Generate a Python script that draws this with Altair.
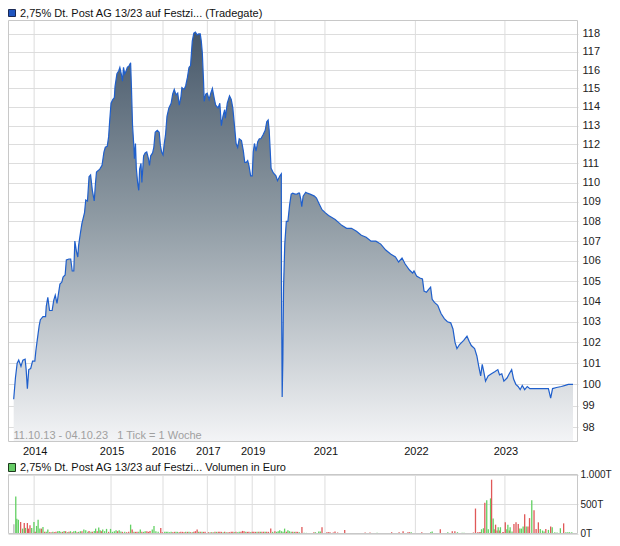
import altair as alt
import pandas as pd

# ---- price series (x = weekly tick index, y = price) ----
price_ticks = [0.4, 1.4, 2.4, 3.3, 4.6, 5.7, 7.0, 7.6, 8.3, 9.1, 10.2, 11.3, 12.6, 13.2, 13.9, 15.1, 15.8, 17.3, 18.8, 19.2,
               20.1, 21.1, 22.6, 23.5, 24.4, 25.4, 26.3, 27.1, 28.2, 28.9, 30.1, 30.8, 32.3, 33.3, 34.2, 35.1, 35.7, 36.6, 37.4, 37.9,
               38.9, 39.8, 41.3, 42.0, 43.0, 43.9, 44.8, 45.8, 46.9, 47.6, 48.2, 50.1, 51.4, 52.5, 53.3, 54.4, 55.2, 55.7, 56.6, 57.6,
               58.5, 58.9, 60.0, 61.0, 61.7, 62.5, 63.2, 63.8, 64.5, 65.3, 66.0, 67.1, 67.9, 68.4, 69.0, 69.8, 70.1, 70.7, 71.2, 72.0,
               72.6, 73.1, 73.9, 74.4, 75.4, 76.3, 77.2, 78.2, 78.8, 79.5, 80.6, 81.3, 82.1, 83.3, 84.4, 85.1, 85.8, 86.6, 87.2, 88.1,
               88.9, 90.0, 91.3, 92.2, 93.1, 94.1, 95.1, 96.0, 96.9, 97.5, 98.8, 99.7, 100.7, 101.6, 102.5, 103.5, 104.4, 105.3, 106.3, 107.2,
               108.1, 108.7, 109.3, 110.0, 110.4, 111.3, 112.1, 113.2, 114.2, 115.1, 116.2, 117.0, 118.4, 119.4, 120.3, 121.2, 122.2, 122.6, 123.7, 125.0,
               126.0, 126.9, 127.8, 128.8, 129.7, 130.6, 131.9, 133.0, 133.8, 134.7, 135.5, 136.2, 137.2, 138.1, 138.7, 139.4, 140.3, 141.3, 142.2, 143.1,
               144.3, 145.6, 146.5, 147.3, 147.9, 148.4, 149.0, 150.3, 151.8, 152.7, 154.1, 154.9, 155.0, 155.4, 155.8, 156.2, 156.9, 157.8, 158.7, 159.7,
               160.6, 161.5, 162.8, 163.9, 164.7, 165.4, 166.2, 166.7, 167.5, 169.0, 169.9, 171.5, 172.8, 174.0, 175.2, 176.5, 178.4, 180.2, 182.2, 186.0,
               187.9, 189.8, 192.6, 195.4, 198.3, 201.1, 203.9, 206.7, 209.5, 212.3, 215.2, 218.0, 220.8, 222.6, 224.6, 226.4, 228.9, 230.7, 231.5, 233.0,
               234.9, 236.4, 237.3, 238.7, 240.1, 241.1, 242.0, 243.3, 245.2, 247.1, 249.0, 250.8, 252.7, 254.0, 255.2, 256.3, 257.8, 260.2, 262.1, 263.4,
               264.6, 266.5, 267.8, 269.0, 270.0, 270.9, 271.9, 272.8, 274.3, 276.2, 278.1, 279.9, 280.9, 282.2, 283.4, 285.2, 286.5, 287.9, 289.0, 290.3,
               291.6, 292.8, 294.0, 295.4, 296.9, 298.4, 300.6, 304.4, 309.1, 310.4, 311.5, 313.8, 316.6, 318.8, 320.6, 323.3]
price_vals = [99.3, 100.3, 101.0, 101.15, 100.85, 101.15, 101.2, 100.7, 99.8, 100.7, 100.75, 101.1, 101.1, 101.6, 102.05, 102.8, 103.1, 103.25, 103.25, 103.75,
              104.2, 103.55, 103.55, 104.05, 104.3, 103.9, 104.4, 104.85, 104.95, 105.2, 105.3, 106.05, 106.1, 106.1, 105.5, 105.5, 107.0, 106.5, 106.2, 106.8,
              107.4, 107.9, 108.45, 109.1, 109.05, 110.3, 110.4, 109.6, 109.05, 109.95, 110.55, 110.7, 110.9, 111.6, 111.85, 111.9, 112.4, 113.1, 114.2, 114.4,
              114.5, 115.1, 115.8, 115.95, 116.15, 115.8, 115.4, 116.15, 115.8, 115.95, 116.15, 116.25, 116.4, 115.0, 113.05, 111.85, 111.25, 112.05, 110.75, 109.95,
              109.6, 110.7, 111.0, 110.0, 111.4, 111.55, 111.6, 111.25, 110.9, 111.4, 111.55, 111.85, 112.65, 112.75, 112.65, 111.95, 111.6, 111.45, 111.95, 112.55,
              113.5, 113.95, 114.2, 114.7, 114.95, 114.65, 114.75, 114.1, 114.5, 115.05, 114.95, 115.15, 115.6, 116.15, 116.25, 117.6, 118.05, 118.1, 117.95, 118.0,
              118.0, 117.6, 116.95, 115.4, 114.3, 114.7, 114.75, 114.4, 114.75, 115.0, 114.45, 114.1, 113.95, 114.2, 113.0, 113.5, 113.85, 113.4, 114.2, 114.6,
              114.4, 113.95, 113.05, 112.05, 111.85, 112.3, 112.2, 111.65, 111.05, 111.05, 111.15, 110.9, 110.35, 110.35, 111.6, 112.05, 111.65, 112.15, 112.3, 112.3,
              112.5, 112.75, 113.2, 113.3, 112.75, 111.85, 110.75, 110.5, 110.35, 110.1, 110.35, 110.45, 104.85, 99.4, 101.2, 104.7, 106.85, 108.0, 108.0, 108.85,
              109.4, 109.45, 109.4, 109.4, 109.45, 109.45, 109.1, 108.75, 109.3, 109.5, 109.45, 109.4, 109.35, 109.3, 109.2, 108.95, 108.6, 108.45, 108.3, 108.1,
              107.95, 107.8, 107.65, 107.65, 107.5, 107.3, 107.2, 107.0, 107.0, 106.85, 106.55, 106.35, 106.2, 105.95, 106.15, 105.85, 105.55, 105.4, 105.5, 105.25,
              105.15, 105.1, 104.5, 104.45, 104.6, 104.7, 104.1, 103.95, 103.8, 103.4, 103.15, 103.0, 102.95, 102.65, 102.0, 101.7, 101.9, 102.1, 102.3, 102.05,
              101.85, 101.7, 101.35, 100.8, 100.4, 100.95, 100.55, 100.15, 100.4, 100.5, 100.6, 100.7, 100.45, 100.5, 100.15, 100.3, 100.5, 100.7, 100.25, 100.0,
              99.9, 99.75, 99.95, 99.75, 99.9, 99.8, 99.8, 99.8, 99.8, 99.35, 99.8, 99.85, 99.9, 99.95, 100.0, 100.0]

# ---- volume (thousand euro), direction g=up r=down n=neutral ----
vol_ticks = [0.5, 1.6, 2.2, 3.1, 4.4, 5.5, 6.5, 7.2, 8.3, 8.9, 9.8, 10.8, 12.1, 12.8, 13.6, 14.5, 15.5, 16.4, 17.3,
             18.3, 19.2, 20.1, 21.1, 22.0, 23.0, 23.9, 24.8, 25.8, 26.7, 27.6, 28.6, 29.5, 30.4, 31.4, 32.3, 33.2, 34.2, 35.1, 36.1,
             37.0, 37.9, 38.9, 39.8, 40.9, 42.0, 43.2, 43.9, 45.0, 45.8, 46.9, 47.7, 48.6, 49.5, 50.3, 51.0, 51.8, 52.9, 54.0, 55.2,
             56.3, 57.4, 58.5, 59.5, 60.4, 61.3, 62.3, 63.2, 64.5, 65.6, 66.8, 67.9, 68.8, 69.8, 70.7, 71.6, 72.6, 73.5, 74.4, 75.4,
             76.3, 77.3, 78.2, 79.1, 80.4, 81.4, 82.5, 83.8, 85.3, 86.2, 87.6, 88.5, 89.4, 90.4, 91.3, 92.2, 93.2, 94.1, 95.0, 96.0,
             96.9, 97.9, 98.8, 99.7, 100.7, 101.6, 102.5, 103.5, 104.4, 105.3, 106.3, 107.2, 108.1, 109.1, 110.0, 110.9, 112.8, 113.8, 114.7, 115.6,
             116.6, 117.5, 118.5, 119.4, 120.3, 121.3, 122.2, 123.1, 124.1, 125.0, 126.0, 126.9, 127.8, 128.7, 129.7, 130.6, 131.6, 132.5, 133.4, 134.4,
             135.3, 136.2, 137.2, 138.1, 139.0, 140.0, 140.9, 141.9, 142.8, 143.7, 144.7, 145.6, 146.5, 147.5, 148.8, 149.9, 151.2, 152.2, 153.1, 154.0,
             155.0, 155.9, 156.8, 157.8, 158.7, 159.6, 160.6, 161.5, 162.5, 163.4, 164.3, 165.3, 166.8, 168.1, 169.4,
             173.7, 174.6, 176.5, 177.4, 178.4, 181.2, 182.1, 183.0, 184.9, 185.9, 187.4, 191.5, 203.3, 206.1, 210.2, 218.6, 222.9, 225.2, 228.0, 228.9,
             229.9, 236.0, 241.1, 242.0, 246.7, 251.0, 253.6, 255.1, 256.6, 259.3, 260.4, 265.8, 267.0, 268.3, 269.2, 269.8, 270.5, 271.6, 272.4, 273.5,
             274.4, 275.7, 276.3, 277.2, 277.8, 278.6, 279.5, 280.1, 281.0, 281.4, 282.7, 283.2, 284.2, 285.1, 285.7, 286.6, 287.0, 288.1, 289.2, 290.4,
             291.7, 292.6, 293.5, 294.5, 295.4, 296.3, 297.3, 298.2, 299.5, 300.8, 302.0, 303.3, 304.4, 305.7, 306.6, 307.6, 309.1, 310.4, 311.3, 312.8,
             314.1, 316.0, 317.9, 319.2, 320.3, 321.3, 322.6]
vol_vals = [157, 628, 250, 233, 195, 83, 178, 95, 178, 83, 139, 95, 195, 28, 128, 233, 83, 83, 111,
            28, 28, 67, 22, 22, 28, 22, 28, 39, 44, 28, 28, 44, 39, 22, 28, 39, 22, 39, 44,
            22, 28, 39, 39, 67, 56, 28, 44, 28, 28, 44, 83, 39, 100, 56, 39, 67, 39, 78, 28,
            78, 28, 39, 56, 39, 56, 33, 28, 28, 22, 28, 150, 67, 28, 28, 28, 28, 67, 28, 28,
            39, 39, 28, 44, 67, 128, 39, 28, 95, 22, 28, 28, 28, 22, 28, 22, 28, 28, 28, 22,
            28, 28, 22, 28, 28, 28, 22, 22, 28, 39, 67, 28, 28, 28, 28, 28, 22, 22, 22, 22,
            28, 28, 28, 28, 28, 22, 28, 22, 22, 22, 28, 28, 22, 28, 22, 28, 28, 44, 39, 28,
            28, 28, 22, 28, 28, 28, 28, 28, 28, 28, 28, 28, 28, 28, 83, 28, 39, 28, 39, 56,
            39, 28, 83, 28, 56, 39, 28, 28, 28, 28, 28, 22, 111, 11, 11,
            22, 22, 33, 33, 106, 22, 22, 22, 17, 33, 17, 61, 17, 17, 11, 22, 22, 39, 22, 22,
            22, 22, 22, 33, 72, 22, 39, 39, 22, 11, 11, 17, 423, 22, 22, 22, 72, 89, 523, 562,
            72, 595, 912, 256, 72, 150, 50, 106, 50, 106, 22, 22, 189, 72, 150, 50, 106, 33, 161, 189,
            161, 83, 83, 117, 328, 117, 117, 261, 562, 395, 78, 189, 78, 50, 33, 78, 61, 117, 106, 22,
            17, 89, 172, 22, 22, 22, 22]
vol_dir = ["n", "g", "g", "g", "r", "g", "r", "g", "r", "r", "r", "g", "g", "r", "g", "g", "g", "r", "g",
           "r", "g", "g", "r", "r", "g", "r", "r", "g", "g", "g", "r", "g", "r", "g", "r", "g", "r", "g", "g",
           "r", "g", "g", "r", "g", "g", "g", "r", "g", "r", "g", "g", "r", "g", "g", "r", "g", "g", "g", "r",
           "g", "g", "g", "g", "r", "g", "g", "r", "g", "r", "r", "g", "r", "g", "r", "r", "g", "g", "r", "g",
           "g", "r", "r", "r", "g", "g", "g", "g", "r", "r", "g", "g", "g", "g", "g", "r", "r", "g", "g", "r",
           "r", "r", "r", "g", "r", "g", "r", "g", "r", "r", "r", "g", "r", "g", "r", "r", "r", "g", "r", "g",
           "r", "g", "r", "r", "r", "g", "r", "g", "r", "r", "r", "r", "g", "r", "g", "g", "r", "r", "r", "g",
           "r", "r", "g", "r", "r", "r", "g", "r", "g", "r", "r", "g", "r", "r", "r", "g", "r", "g", "g", "g",
           "g", "g", "g", "r", "g", "g", "g", "r", "g", "r", "r", "g", "r", "g", "g",
           "r", "g", "g", "g", "r", "r", "r", "r", "r", "r", "r", "r", "r", "r", "g", "r", "r", "r", "r", "r",
           "g", "r", "g", "g", "r", "g", "r", "r", "g", "g", "g", "r", "r", "r", "r", "r", "g", "g", "r", "g",
           "g", "g", "r", "g", "g", "r", "r", "g", "r", "g", "r", "r", "r", "g", "g", "r", "g", "g", "r", "r",
           "r", "g", "g", "g", "r", "g", "r", "r", "g", "r", "r", "r", "g", "g", "g", "r", "g", "r", "g", "g",
           "g", "g", "r", "g", "g", "g", "g"]

# ---- year boundaries on the tick axis ----
year_ticks = [12.2, 56.6, 86.6, 112.2, 128.2, 138.1, 151.2, 180.1, 232.3, 284.0]
year_labels = ["2014", "2015", "2016", "2017", "", "2019", "", "2021", "2022", "2023"]

price_axis_values = list(range(98, 119))
vol_axis_values = [0, 500, 1000]

title_price = "2,75% Dt. Post AG 13/23 auf Festzi... (Tradegate)"
title_vol = "2,75% Dt. Post AG 13/23 auf Festzi... Volumen in Euro"
range_note = "11.10.13 - 04.10.23\u00a0\u00a0 1 Tick = 1 Woche"

FONT = "Liberation Sans"
W, H = 570, 530
P_TOP, P_BOT = 12, 433
V_TOP, V_BOT = 466.5, 525.5
GRID = "#dddddd"
FRAME = "#c8c8c8"

price_df = pd.DataFrame({"t": price_ticks, "v": price_vals})
vol_df = pd.DataFrame({"t": vol_ticks, "vol": vol_vals, "d": vol_dir})
year_df = pd.DataFrame({"t": year_ticks, "label": year_labels})
one = pd.DataFrame({"a": [0]})

x_scale = alt.Scale(domain=[0, 323.3], range=[0, W], nice=False, zero=False)
y_price = alt.Scale(type="log", domain=[97.36, 118.78], range=[P_BOT, P_TOP], nice=False, zero=False)
y_vol = alt.Scale(domain=[0, 1000], range=[V_BOT, V_TOP], nice=False, zero=False)

price_axis = alt.Axis(orient="right", values=price_axis_values, format="d", grid=True, gridColor=GRID,
                      domain=False, ticks=False, labelPadding=4, labelFontSize=11, labelFont=FONT,
                      labelColor="#222222", labelOverlap=False, title=None)
vol_axis = alt.Axis(orient="right", values=vol_axis_values, grid=True, gridColor=GRID, domain=False,
                    ticks=False, labelPadding=2, labelFontSize=10, labelFont=FONT, labelColor="#222222",
                    labelOverlap=False, title=None,
                    labelExpr="datum.value == 1000 ? '1.000T' : datum.value + 'T'")

X = alt.X("t:Q", scale=x_scale, axis=None)

grad = alt.Gradient(gradient="linear",
                    stops=[alt.GradientStop(color="#47586a", offset=0),
                           alt.GradientStop(color="#8e9aa3", offset=0.45),
                           alt.GradientStop(color="#f3f4f6", offset=1)],
                    x1=1, x2=1, y1=0, y2=1)

year_rules_p = alt.Chart(year_df).mark_rule(color=GRID, strokeWidth=1).encode(
    x=X, y=alt.value(P_TOP), y2=alt.value(P_BOT))
year_rules_v = alt.Chart(year_df).mark_rule(color=GRID, strokeWidth=1).encode(
    x=X, y=alt.value(V_TOP), y2=alt.value(V_BOT))

area = alt.Chart(price_df).mark_area(color=grad, opacity=1).encode(
    x=X, y=alt.Y("v:Q", scale=y_price, axis=price_axis), y2=alt.datum(97.36))
line = alt.Chart(price_df).mark_line(color="#1f5fcc", strokeWidth=1.2).encode(
    x=X, y=alt.Y("v:Q", scale=y_price, axis=price_axis))
price_layer = alt.layer(area, line)

bars = alt.Chart(vol_df).mark_bar(width=1.3).encode(
    x=X, y=alt.Y("vol:Q", scale=y_vol, axis=vol_axis), y2=alt.datum(0),
    color=alt.Color("d:N", scale=alt.Scale(domain=["g", "r", "n"], range=["#62d062", "#e05858", "#b4b4b4"]),
                    legend=None))

frame_p = alt.Chart(one).mark_rect(fillOpacity=0, stroke=FRAME, strokeWidth=1).encode(
    x=alt.value(0.5), x2=alt.value(W - 0.5), y=alt.value(P_TOP + 0.5), y2=alt.value(P_BOT + 0.5))
frame_v = alt.Chart(one).mark_rect(fillOpacity=0, stroke=FRAME, strokeWidth=1).encode(
    x=alt.value(0.5), x2=alt.value(W - 0.5), y=alt.value(V_TOP), y2=alt.value(V_BOT))

year_text = alt.Chart(year_df).mark_text(font=FONT, fontSize=11, color="#111111", baseline="middle",
                                         align="center", dx=1).encode(
    x=X, y=alt.value(444), text="label:N")

sq_p = alt.Chart(one).mark_rect(fill="#1f55c0", stroke="#1b2a55", strokeWidth=1).encode(
    x=alt.value(0.5), x2=alt.value(7.5), y=alt.value(1.5), y2=alt.value(8.5))
tx_p = alt.Chart(one).mark_text(font=FONT, fontSize=11, color="#111111", align="left", baseline="middle").encode(
    x=alt.value(12), y=alt.value(5.5), text=alt.value(title_price))
sq_v = alt.Chart(one).mark_rect(fill="#66cc66", stroke="#1e3a1e", strokeWidth=1).encode(
    x=alt.value(0.5), x2=alt.value(7.5), y=alt.value(455.5), y2=alt.value(463.5))
tx_v = alt.Chart(one).mark_text(font=FONT, fontSize=11, color="#111111", align="left", baseline="middle").encode(
    x=alt.value(12), y=alt.value(459.5), text=alt.value(title_vol))
note = alt.Chart(one).mark_text(font=FONT, fontSize=11, color="#a0a0a0", align="left", baseline="middle").encode(
    x=alt.value(5.5), y=alt.value(427.5), text=alt.value(range_note))

chart = alt.layer(
    year_rules_p, year_rules_v, price_layer, bars, frame_p, frame_v, year_text,
    sq_p, tx_p, sq_v, tx_v, note
).resolve_scale(y="independent").properties(
    width=W, height=H,
    autosize=alt.AutoSizeParams(type="none"),
    padding={"left": 0, "top": 0, "right": 34, "bottom": 0},
).configure_view(stroke=None)

chart.save("out.html", embed_options={"renderer": "svg", "actions": False})
